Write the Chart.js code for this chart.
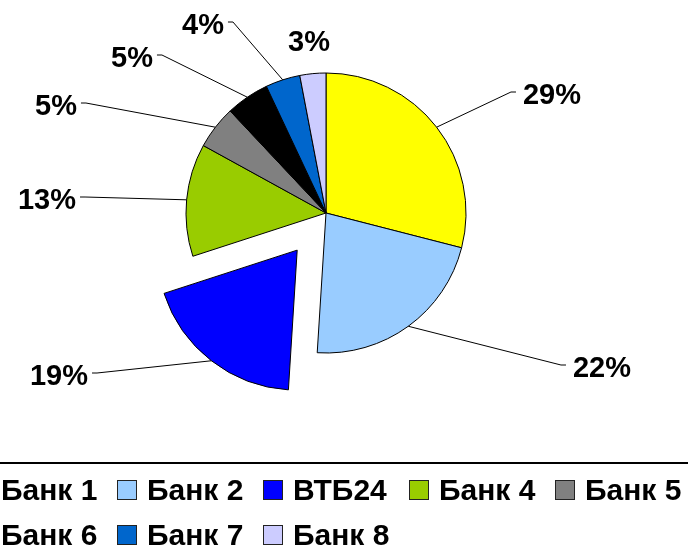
<!DOCTYPE html>
<html lang="ru">
<head>
    <meta charset="UTF-8">
    <title>Доли банков</title>
    <script src="https://cdn.jsdelivr.net/npm/chart.js"></script>
    <style>
        html, body { margin: 0; padding: 0; background: #fff; }
        #wrap { width: 688px; height: 554px; position: relative; }
    </style>
</head>
<body>
    <div id="wrap"><canvas id="pieChart"></canvas></div>

    <script>
    // данные
    const banks = ['Банк 1', 'Банк 2', 'ВТБ24', 'Банк 4', 'Банк 5', 'Банк 6', 'Банк 7', 'Банк 8'];
    const shares = [29, 22, 19, 13, 5, 5, 4, 3];
    const sliceColors = ['#FFFF00', '#99CCFF', '#0000FF', '#99CC00', '#808080', '#000000', '#0066CC', '#CCCCFF'];

    // сдвиг выделенного сектора (ВТБ24)
    const explodePlugin = {
        id: 'explode',
        afterDatasetsUpdate(chart, args, opts) {
            chart.getDatasetMeta(0).data.forEach((arc, i) => {
                const d = opts.dist[i] || 0;
                if (!d) return;
                const mid = (arc.startAngle + arc.endAngle) / 2;
                arc.x += Math.cos(mid) * d;
                arc.y += Math.sin(mid) * d;
            });
        }
    };

    // подписи процентов с выносками
    const pctLabels = {
        id: 'pctLabels',
        afterDatasetsDraw(chart, args, opts) {
            const ctx = chart.ctx;
            const meta = chart.getDatasetMeta(0);
            const vals = chart.data.datasets[0].data;
            const total = vals.reduce((a, b) => a + b, 0);
            ctx.save();
            ctx.font = opts.font;
            ctx.textAlign = 'center';
            ctx.textBaseline = 'middle';
            ctx.fillStyle = '#000';
            ctx.strokeStyle = '#000';
            ctx.lineWidth = 1;
            meta.data.forEach((arc, i) => {
                const [lx, ly] = opts.pos[i];
                const txt = Math.round(vals[i] / total * 100) + '%';
                const w = ctx.measureText(txt).width;
                const mid = (arc.startAngle + arc.endAngle) / 2;
                const ax = arc.x + Math.cos(mid) * arc.outerRadius;
                const ay = arc.y + Math.sin(mid) * arc.outerRadius;
                if (Math.hypot(ax - lx, ay - ly) > 50) {
                    const right = lx > ax;
                    const sx = right ? lx - w / 2 - 7 : lx + w / 2 + 4;
                    const stub = right ? -5 : 5;
                    const sy = ly - 4;
                    ctx.beginPath();
                    ctx.moveTo(sx, sy);
                    ctx.lineTo(sx + stub, sy);
                    ctx.lineTo(ax, ay);
                    ctx.stroke();
                }
                ctx.fillText(txt, lx, ly);
            });
            ctx.restore();
        }
    };

    // легенда сеткой под линией
    const gridLegend = {
        id: 'gridLegend',
        afterDraw(chart, args, o) {
            const ctx = chart.ctx;
            const ds = chart.data.datasets[0];
            ctx.save();
            ctx.strokeStyle = '#000';
            ctx.lineWidth = 2;
            ctx.beginPath();
            ctx.moveTo(0, o.ruleY);
            ctx.lineTo(chart.width, o.ruleY);
            ctx.stroke();
            ctx.font = o.font;
            ctx.textAlign = 'left';
            ctx.textBaseline = 'alphabetic';
            chart.data.labels.forEach((lab, i) => {
                const col = i % o.cols, row = Math.floor(i / o.cols);
                const x = o.x0 + col * o.colW;
                const base = o.y0 + row * o.rowH;
                ctx.fillStyle = ds.backgroundColor[i];
                ctx.fillRect(x, base - o.box, o.box, o.box);
                ctx.lineWidth = 1;
                ctx.strokeStyle = '#222';
                ctx.strokeRect(x + 0.5, base - o.box + 0.5, o.box - 1, o.box - 1);
                ctx.fillStyle = '#000';
                ctx.fillText(lab, x + o.textGap, base);
            });
            ctx.restore();
        }
    };

    new Chart(document.getElementById('pieChart'), {
        type: 'pie',
        data: {
            labels: banks,
            datasets: [{
                data: shares,
                backgroundColor: sliceColors,
                borderColor: '#000',
                borderWidth: 1
            }]
        },
        options: {
            responsive: true,
            maintainAspectRatio: false,
            animation: false,
            events: [],
            radius: 140,
            layout: { padding: { left: 0, right: 36, top: 0, bottom: 128 } },
            plugins: {
                legend: { display: false },
                tooltip: { enabled: false },
                explode: { dist: [0, 0, 47, 0, 0, 0, 0, 0] },
                pctLabels: {
                    font: 'bold 29px "Liberation Sans", Arial, sans-serif',
                    pos: [[552, 96], [602, 369], [59, 377], [47, 201], [56, 107], [132, 59], [203, 26], [309, 43]]
                },
                gridLegend: {
                    font: 'bold 30px "Liberation Sans", Arial, sans-serif',
                    ruleY: 463, cols: 5, colW: 146, x0: -29, y0: 500, rowH: 45, box: 20, textGap: 30
                }
            }
        },
        plugins: [explodePlugin, pctLabels, gridLegend]
    });
    </script>
</body>
</html>
